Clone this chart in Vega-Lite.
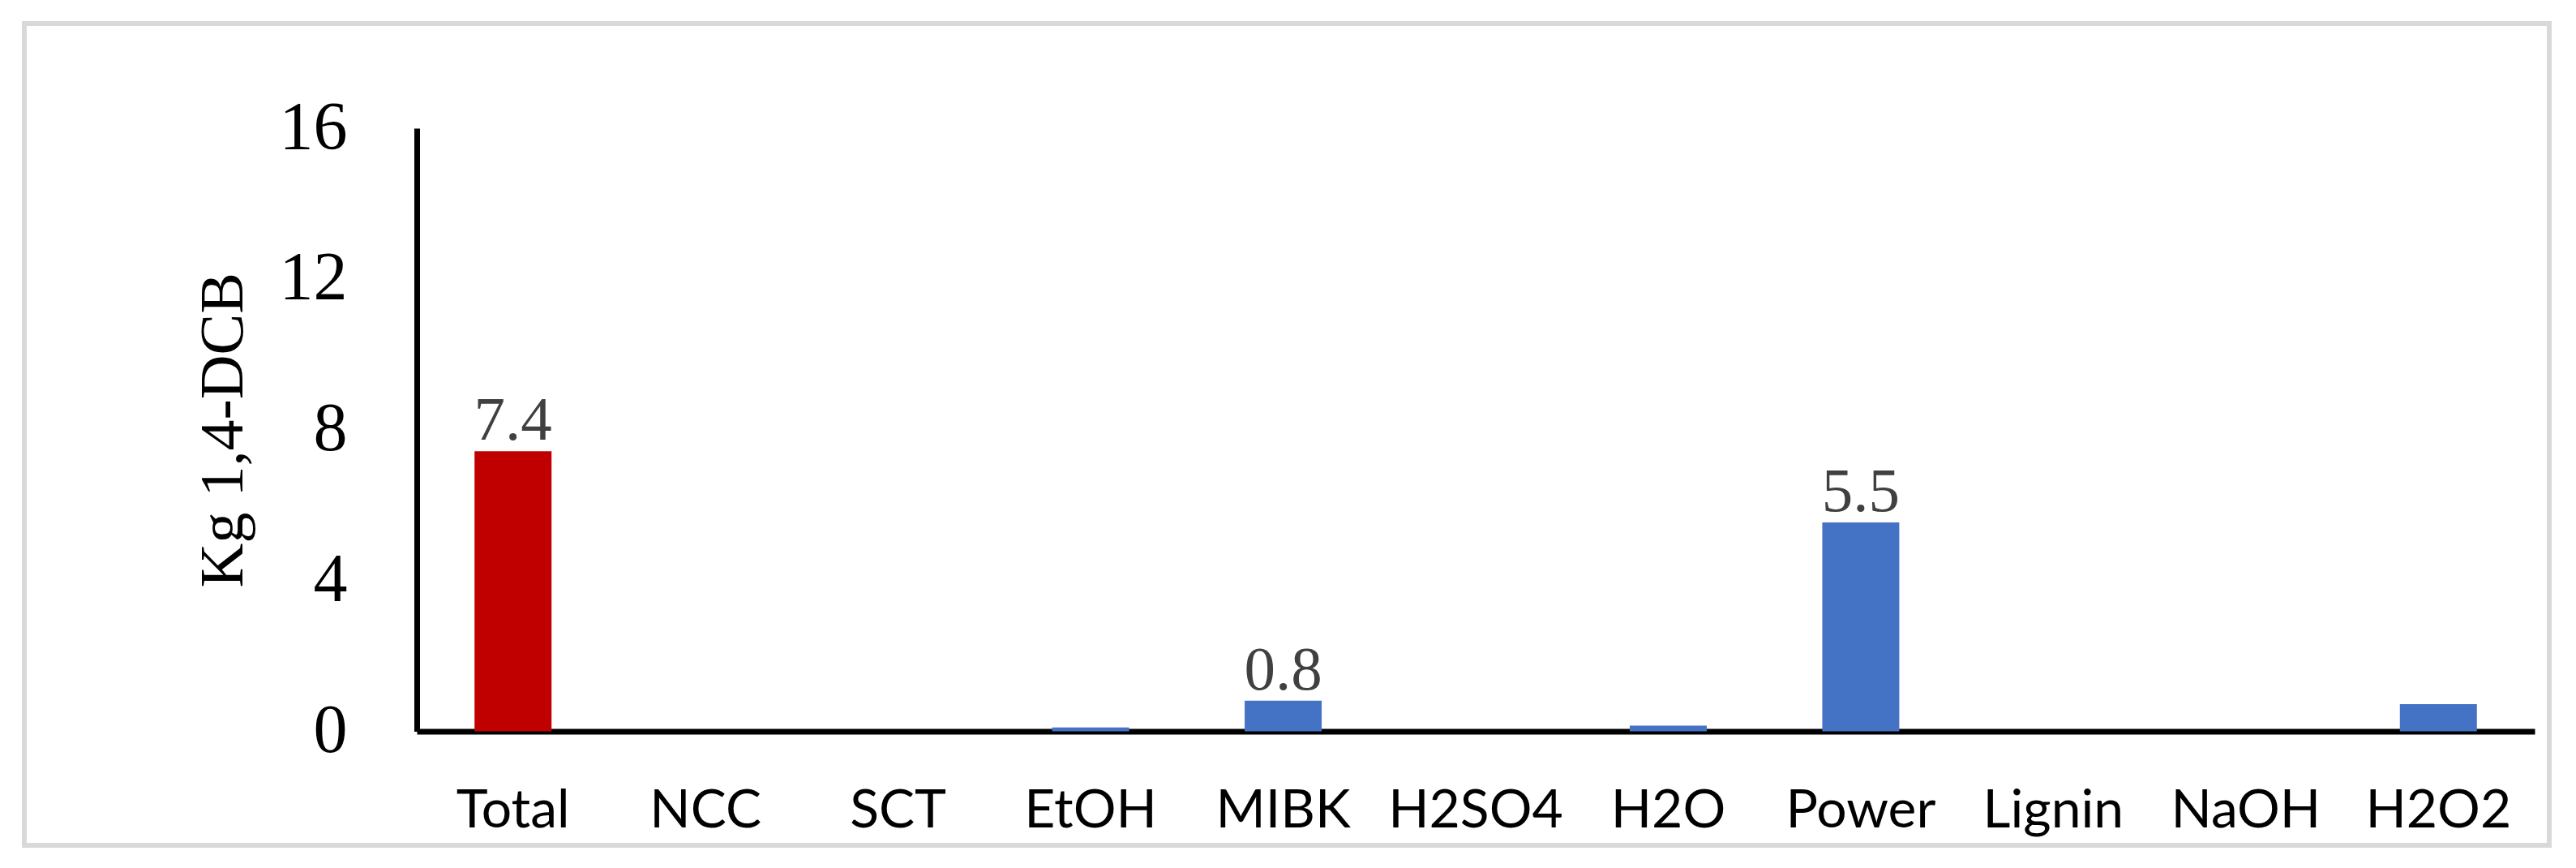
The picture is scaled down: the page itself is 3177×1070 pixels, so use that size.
{
  "$schema": "https://vega.github.io/schema/vega-lite/v6.json",
  "width": 3114,
  "height": 1013,
  "autosize": {"type": "none"},
  "padding": {"left": 30, "top": 29, "right": 33, "bottom": 28},
  "background": "white",
  "config": {
    "view": {"stroke": "#d9d9d9", "strokeWidth": 6},
    "axis": {"grid": false, "ticks": false, "tickSize": 0, "domainColor": "black", "domainWidth": 7, "zindex": 1}
  },
  "data": {
    "values": [
      {"category": "Total", "value": 7.43, "group": "total", "label": "7.4"},
      {"category": "NCC", "value": 0, "group": "part"},
      {"category": "SCT", "value": 0, "group": "part"},
      {"category": "EtOH", "value": 0.1, "group": "part"},
      {"category": "MIBK", "value": 0.81, "group": "part", "label": "0.8"},
      {"category": "H2SO4", "value": 0, "group": "part"},
      {"category": "H2O", "value": 0.15, "group": "part"},
      {"category": "Power", "value": 5.54, "group": "part", "label": "5.5"},
      {"category": "Lignin", "value": 0, "group": "part"},
      {"category": "NaOH", "value": 0, "group": "part"},
      {"category": "H2O2", "value": 0.72, "group": "part"}
    ]
  },
  "encoding": {
    "x": {
      "field": "category",
      "type": "nominal",
      "sort": null,
      "scale": {"type": "band", "range": [484, 3096], "paddingInner": 0.6, "paddingOuter": 0.3},
      "axis": {
        "title": null,
        "labelAngle": 0,
        "labelFont": "Lato",
        "labelFontSize": 66,
        "labelColor": "black",
        "labelPadding": 66,
        "labelOverlap": false,
        "labelLimit": 0,
        "offset": -140.5
      }
    },
    "y": {
      "field": "value",
      "type": "quantitative",
      "scale": {"domain": [0, 16], "range": [872.5, 129], "nice": false},
      "axis": {
        "values": [0, 4, 8, 12, 16],
        "title": "Kg 1,4-DCB",
        "titleFont": "Liberation Serif",
        "titleFontSize": 76,
        "titleFontWeight": "normal",
        "titleColor": "black",
        "titlePadding": 30,
        "labelFont": "Liberation Serif",
        "labelFontSize": 84,
        "labelColor": "black",
        "labelPadding": 86,
        "labelLimit": 0,
        "offset": -484
      }
    }
  },
  "layer": [
    {
      "mark": {"type": "bar"},
      "encoding": {
        "color": {
          "field": "group",
          "type": "nominal",
          "scale": {"domain": ["total", "part"], "range": ["#C00000", "#4472C4"]},
          "legend": null
        }
      }
    },
    {
      "transform": [{"filter": "datum.label != null"}],
      "mark": {"type": "text", "font": "Liberation Serif", "fontSize": 77, "color": "#404040", "baseline": "alphabetic", "dy": -14},
      "encoding": {"text": {"field": "label", "type": "nominal"}}
    }
  ]
}
